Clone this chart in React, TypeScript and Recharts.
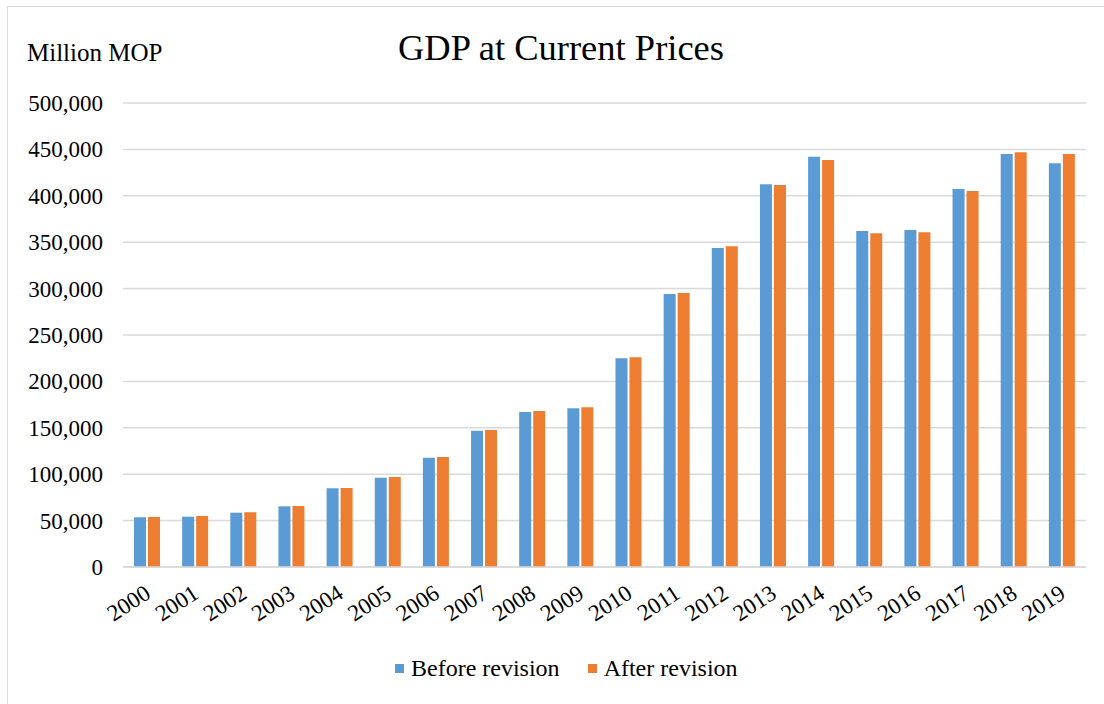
import React from 'react';
import { BarChart, Bar, XAxis, YAxis, CartesianGrid } from 'recharts';

const years = ['2000','2001','2002','2003','2004','2005','2006','2007','2008','2009','2010','2011','2012','2013','2014','2015','2016','2017','2018','2019'];
const beforeRevision = [53600, 54200, 58500, 65400, 84800, 96300, 117800, 146900, 167000, 171200, 225000, 294200, 343800, 412400, 442100, 362100, 363100, 407300, 445000, 435000];
const afterRevision = [53900, 55000, 58900, 65700, 85200, 97000, 118500, 147600, 168000, 172200, 226000, 295300, 345600, 411600, 438600, 359600, 360600, 405200, 446800, 445000];
const yTicks = [0, 50000, 100000, 150000, 200000, 250000, 300000, 350000, 400000, 450000, 500000];

const data = years.map((y, i) => ({ year: y, before: beforeRevision[i], after: afterRevision[i] }));

const FONT = '"Liberation Serif", "Times New Roman", serif';
const BLUE = '#5B9BD5';
const ORANGE = '#ED7D31';

const fmt = (v: number) => (v === 0 ? '0' : v.toLocaleString('en-US'));

const XTick = (props: any) => {
  const { x, y, payload } = props;
  const ax = x + 5;
  const ay = y + 22;
  return (
    <text x={ax} y={ay} transform={`rotate(-33, ${ax}, ${ay})`} textAnchor="end" fontFamily={FONT} fontSize={23} fill="#000">
      {payload.value}
    </text>
  );
};

const YTick = (props: any) => {
  const { x, y, payload } = props;
  return (
    <text x={x} y={y} dy={8} textAnchor="end" fontFamily={FONT} fontSize={23} fill="#000">
      {fmt(payload.value)}
    </text>
  );
};

export default function App() {
  return (
    <div style={{ position: 'absolute', left: 0, top: 0, width: 1104, height: 704, background: '#fff', overflow: 'hidden' }}>
      <div style={{ position: 'absolute', left: 7, top: 6, width: 1110, height: 720, border: '1px solid #d9d9d9', boxSizing: 'border-box' }} />
      <div style={{ position: 'absolute', left: 0, width: 1122, top: 27, textAlign: 'center', fontFamily: FONT, fontSize: 36.5, color: '#000', lineHeight: '42px' }}>
        GDP at Current Prices
      </div>
      <div style={{ position: 'absolute', left: 27, top: 38, fontFamily: FONT, fontSize: 25, color: '#000', lineHeight: '30px' }}>
        Million MOP
      </div>
      <div style={{ position: 'absolute', left: 0, top: 0 }}>
        <BarChart
          width={1104}
          height={704}
          data={data}
          margin={{ top: 103, right: 18, bottom: 0, left: 0 }}
          barGap={2}
          barSize={12}
        >
          <CartesianGrid vertical={false} stroke="#d9d9d9" strokeWidth={1.5} />
          <XAxis dataKey="year" tick={<XTick />} tickLine={false} axisLine={{ stroke: '#d9d9d9', strokeWidth: 1.5 }} interval={0} height={137} />
          <YAxis width={123} domain={[0, 500000]} ticks={yTicks} tick={<YTick />} tickLine={false} axisLine={false} tickSize={0} tickMargin={20} />
          <Bar dataKey="before" name="Before revision" fill={BLUE} isAnimationActive={false} />
          <Bar dataKey="after" name="After revision" fill={ORANGE} isAnimationActive={false} />
        </BarChart>
      </div>
      <div style={{ position: 'absolute', left: 395, top: 653, display: 'flex', alignItems: 'center', fontFamily: FONT, fontSize: 24, color: '#000', lineHeight: '30px', whiteSpace: 'nowrap' }}>
        <span style={{ display: 'inline-block', width: 9, height: 9, background: BLUE, marginRight: 7 }} />
        <span>Before revision</span>
        <span style={{ display: 'inline-block', width: 9, height: 9, background: ORANGE, marginLeft: 28, marginRight: 7 }} />
        <span>After revision</span>
      </div>
    </div>
  );
}
